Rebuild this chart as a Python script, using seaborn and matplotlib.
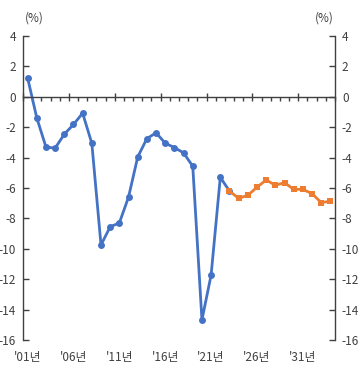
import numpy as np
import pandas as pd
import matplotlib
matplotlib.use("Agg")
import matplotlib.pyplot as plt
import seaborn as sns

years = list(range(2001, 2035))
actual_years = list(range(2001, 2024))
actual = [1.25, -1.38, -3.3, -3.38, -2.46, -1.82, -1.08, -3.06, -9.75, -8.55,
          -8.3, -6.6, -3.96, -2.75, -2.37, -3.05, -3.34, -3.69, -4.57, -14.68,
          -11.72, -5.3, -6.2]
proj_years = list(range(2023, 2035))
proj = [-6.2, -6.68, -6.48, -5.95, -5.47, -5.82, -5.65, -6.09, -6.09, -6.37,
        -6.96, -6.87]
tick_years = ["'01년", "'06년", "'11년", "'16년", "'21년", "'26년", "'31년"]
y_ticks = list(range(-16, 5, 2))

sns.set_theme(style="white")
plt.rcParams['font.family'] = ['Noto Sans CJK KR', 'DejaVu Sans']

df_a = pd.DataFrame({'x': [years.index(y) for y in actual_years], 'v': actual})
df_p = pd.DataFrame({'x': [years.index(y) for y in proj_years], 'v': proj})

fig = plt.figure(figsize=(3.59, 3.68), dpi=100)
ax = fig.add_axes([23/359, 1 - 340/368, (335 - 23)/359, (340 - 36)/368])

sns.lineplot(data=df_a, x='x', y='v', ax=ax, color='#4472C4', lw=2,
             marker='o', markersize=5, markeredgewidth=0)
sns.lineplot(data=df_p, x='x', y='v', ax=ax, color='#ED7D31', lw=2,
             marker='s', markersize=5, markeredgewidth=0)

n = len(years)
ax.set_xlim(-0.5, n - 0.5)
ax.set_ylim(-16, 4)
ax.set_xlabel('')
ax.set_ylabel('')

txt = '#404040'
# zero line with category ticks
ax.spines['bottom'].set_position(('data', 0))
ax.spines['top'].set_visible(False)
for s in ['bottom', 'left', 'right']:
    ax.spines[s].set_color('#404040')
    ax.spines[s].set_linewidth(1)
ax.set_xticks(np.arange(-0.5, n, 5))
ax.set_xticks(np.arange(-0.5, n, 1), minor=True)
ax.tick_params(axis='x', which='major', direction='inout', length=6,
               width=1, color='#404040', labelbottom=False, bottom=True)
ax.tick_params(axis='x', which='minor', direction='out', length=3,
               width=1, color='#404040', bottom=True)

# y axis both sides
ax.set_yticks(y_ticks)
ax.set_yticklabels([str(t) for t in y_ticks])
ax.tick_params(axis='y', direction='in', length=4, width=1, color='#404040',
               left=True, right=True, labelleft=True, labelright=True,
               labelsize=8.5, labelcolor=txt, pad=5)

# category labels at the bottom
sec = ax.secondary_xaxis('bottom')
sec.set_xticks([years.index(2001 + 5 * i) for i in range(len(tick_years))])
sec.set_xticklabels(tick_years)
sec.spines['bottom'].set_visible(False)
sec.tick_params(length=0, labelsize=8.5, labelcolor=txt, pad=8)

ax.text(0.005, 1.06, '(%)', transform=ax.transAxes, ha='left', va='center',
        fontsize=8.5, color=txt)
ax.text(0.995, 1.06, '(%)', transform=ax.transAxes, ha='right', va='center',
        fontsize=8.5, color=txt)

fig.savefig('out.png', dpi=100)
